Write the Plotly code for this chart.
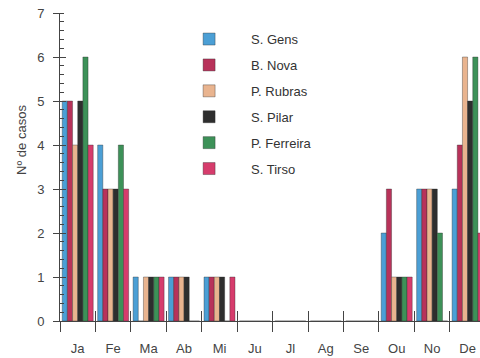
import plotly.graph_objects as go

months = ["Ja", "Fe", "Ma", "Ab", "Mi", "Ju", "Jl", "Ag", "Se", "Ou", "No", "De"]
s_gens = [5, 4, 1, 1, 1, 0, 0, 0, 0, 2, 3, 3]
b_nova = [5, 3, 0, 1, 1, 0, 0, 0, 0, 3, 3, 4]
p_rubras = [4, 3, 1, 1, 1, 0, 0, 0, 0, 1, 3, 6]
s_pilar = [5, 3, 1, 1, 1, 0, 0, 0, 0, 1, 3, 5]
p_ferreira = [6, 4, 1, 0, 0, 0, 0, 0, 0, 1, 2, 6]
s_tirso = [4, 3, 1, 0, 1, 0, 0, 0, 0, 1, 0, 2]

series = [
    ("S. Gens", s_gens, "#4b9fd5"),
    ("B. Nova", b_nova, "#b8325a"),
    ("P. Rubras", p_rubras, "#e9b48f"),
    ("S. Pilar", s_pilar, "#2e2e2e"),
    ("P. Ferreira", p_ferreira, "#3d9158"),
    ("S. Tirso", s_tirso, "#d63c6c"),
]

FONT = "Liberation Sans, Arial, Helvetica, sans-serif"
AX = "#444444"

fig = go.Figure()
for name, vals, col in series:
    fig.add_trace(go.Bar(
        x=months, y=vals, name=name, legendgroup=name,
        marker=dict(color=col, line=dict(color="rgba(40,40,40,0.6)", width=0.6)),
    ))

# overlay axes for crossing tick marks
fig.add_trace(go.Scatter(x=[], y=[], xaxis="x2", yaxis="y2", showlegend=False, hoverinfo="skip"))

fig.update_layout(
    width=480, height=358,
    margin=dict(l=60, r=0, t=13, b=37, autoexpand=False),
    paper_bgcolor="white", plot_bgcolor="white",
    font=dict(family=FONT, size=13, color="#444444"),
    barmode="group", bargap=0.125, bargroupgap=0,
    showlegend=True,
    legend=dict(
        x=0.255, y=0.964, xanchor="left", yanchor="top",
        bgcolor="rgba(0,0,0,0)", borderwidth=0,
        font=dict(family=FONT, size=13, color="#333333"),
        tracegroupgap=6, itemwidth=74,
    ),
    xaxis=dict(
        type="category", range=[-0.5, 11.35], automargin=False,
        showline=True, linecolor=AX, linewidth=1,
        ticks="outside", ticklen=10, tickcolor=AX, tickwidth=1,
        tickson="boundaries", showgrid=False, zeroline=False,
        tickfont=dict(size=13, color="#444444"),
        ticklabelstandoff=15,
    ),
    yaxis=dict(
        range=[0, 7], dtick=1, automargin=False,
        showline=True, linecolor=AX, linewidth=1,
        ticks="outside", ticklen=6, tickcolor=AX, tickwidth=1,
        minor=dict(ticks="inside", dtick=0.2, ticklen=4, tickcolor=AX, tickwidth=1),
        showgrid=False, zeroline=False,
        tickfont=dict(size=13, color="#444444"),
        ticklabelstandoff=6,
    ),
    xaxis2=dict(
        overlaying="x", anchor="y2", range=[-0.5, 11.35], automargin=False,
        tickvals=[i - 0.5 for i in range(12)],
        ticks="inside", ticklen=10, tickcolor=AX, tickwidth=1,
        showticklabels=False, showline=False, showgrid=False, zeroline=False,
    ),
    yaxis2=dict(
        overlaying="y", anchor="x2", range=[0, 7], automargin=False,
        tickvals=list(range(8)),
        ticks="inside", ticklen=6, tickcolor=AX, tickwidth=1,
        showticklabels=False, showline=False, showgrid=False, zeroline=False,
    ),
    annotations=[dict(
        text="Nº de casos", textangle=-90, showarrow=False,
        xref="paper", yref="paper", x=-0.0905, y=0.588,
        xanchor="center", yanchor="middle",
        font=dict(family=FONT, size=13, color="#444444"),
    )],
)

fig.write_html(
    "out.html",
    config={"displayModeBar": False},
    post_script="document.body.style.margin='0';document.body.style.overflow='hidden';",
)
